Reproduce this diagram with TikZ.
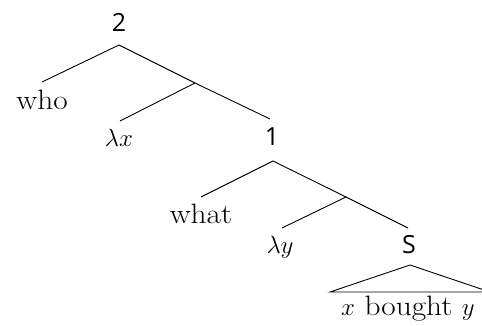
\documentclass[tikz,border=0pt]{standalone}
\usepackage{fontspec}
\setmainfont{Latin Modern Roman}[FakeStretch=1.12]
\newfontfamily\labfont{Open Sans}
\begin{document}
\begin{tikzpicture}[x=1pt,y=-1pt,
  word/.style={inner sep=0pt,font=\fontsize{28}{32}\selectfont},
  lab/.style={inner sep=0pt,font=\fontsize{25}{29}\selectfont\labfont},
  edge/.style={line width=0.9pt}]
\clip (0,0) rectangle (482,326);
% labels
\node[lab] (n2) at (119,22) {2};
\node[word,anchor=base] (who) at (42,110) {who};
\node[word,anchor=base] (lx) at (119,147) {$\lambda x$};
\node[lab] (n1) at (272,137) {1};
\node[word,anchor=base] (what) at (201,223) {what};
\node[word,anchor=base] (ly) at (280,253) {$\lambda y$};
\node[lab] (S) at (409,245) {S};
\node[word,anchor=base] (xby) at (408,315) {$x$ bought $y$};
% coordinates
\coordinate (t2) at (119,45);
\coordinate (whoT) at (42,82);
\coordinate (m2) at (195,83);
\coordinate (lxT) at (120,121);
\coordinate (r2) at (270,119);
\coordinate (t1) at (273,161);
\coordinate (whatT) at (201,197);
\coordinate (m1) at (346,197);
\coordinate (lyT) at (282,228);
\coordinate (ST) at (408,228);
\coordinate (apex) at (410,265);
\coordinate (bl) at (330,292);
\coordinate (br) at (490,292);
% edges
\draw[edge] (t2) -- (whoT);
\draw[edge] (t2) -- (m2) -- (r2);
\draw[edge] (m2) -- (lxT);
\draw[edge] (t1) -- (whatT);
\draw[edge] (t1) -- (m1) -- (ST);
\draw[edge] (m1) -- (lyT);
\draw[edge] (bl) -- (apex) -- (br) -- cycle;
\end{tikzpicture}
\end{document}
